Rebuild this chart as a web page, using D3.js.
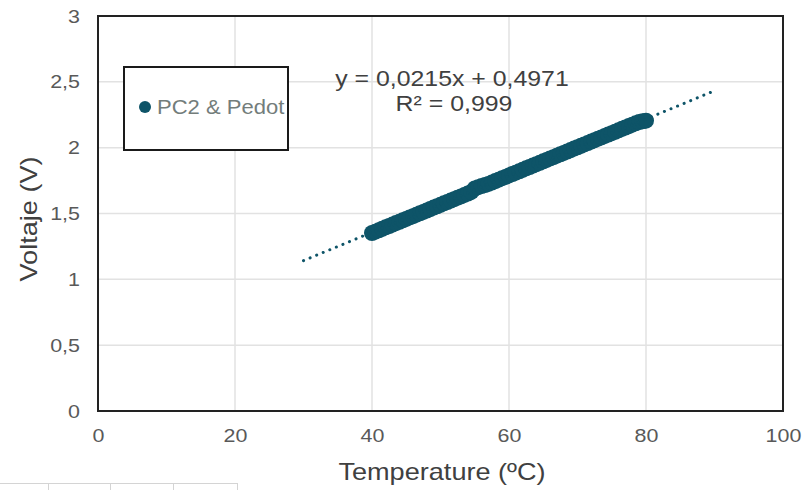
<!DOCTYPE html>
<html>
<head>
<meta charset="utf-8">
<script src="https://cdn.jsdelivr.net/npm/d3@7"></script>
<style>
  body { margin: 0; background: #fff; }
  text { font-family: "Liberation Sans", Arial, sans-serif; }
</style>
</head>
<body>
<div id="chart"></div>
<script>
// measured temperatures (ºC) and voltages (V) for PC2 & Pedot
const temps = [40, 40.5, 41, 41.5, 42, 42.5, 43, 43.5, 44, 44.5, 45, 45.5, 46, 46.5, 47, 47.5,
  48, 48.5, 49, 49.5, 50, 50.5, 51, 51.5, 52, 52.5, 53, 53.5, 54, 54.5, 55, 55.5,
  56, 56.5, 57, 57.5, 58, 58.5, 59, 59.5, 60, 60.5, 61, 61.5, 62, 62.5, 63, 63.5,
  64, 64.5, 65, 65.5, 66, 66.5, 67, 67.5, 68, 68.5, 69, 69.5, 70, 70.5, 71, 71.5,
  72, 72.5, 73, 73.5, 74, 74.5, 75, 75.5, 76, 76.5, 77, 77.5, 78, 78.5, 79, 79.5, 80];
const volts = [1.352, 1.362, 1.373, 1.384, 1.395, 1.405, 1.416, 1.427, 1.437, 1.448, 1.459, 1.470,
  1.480, 1.491, 1.502, 1.512, 1.523, 1.534, 1.545, 1.555, 1.566, 1.577, 1.587, 1.598,
  1.609, 1.620, 1.630, 1.641, 1.652, 1.664, 1.690, 1.700, 1.708, 1.716, 1.725, 1.735,
  1.746, 1.757, 1.768, 1.778, 1.789, 1.800, 1.810, 1.821, 1.832, 1.843, 1.853, 1.864,
  1.875, 1.885, 1.896, 1.907, 1.918, 1.928, 1.939, 1.950, 1.960, 1.971, 1.982, 1.993,
  2.003, 2.014, 2.025, 2.035, 2.046, 2.057, 2.068, 2.078, 2.089, 2.100, 2.110, 2.121,
  2.132, 2.143, 2.153, 2.164, 2.175, 2.185, 2.194, 2.200, 2.205];

// linear trendline shown in the chart
const trendSlope = 0.0215;
const trendIntercept = 0.4971;
const trendRange = [30, 90];

const xTicks = [0, 20, 40, 60, 80, 100];
const yTicks = [0, 0.5, 1, 1.5, 2, 2.5, 3];
const seriesName = "PC2 & Pedot";

const W = 805, H = 490;
const margin = { top: 16, right: 22, bottom: 79, left: 98 };
const width = W - margin.left - margin.right;
const height = H - margin.top - margin.bottom;
const teal = "#0e5468";
const sx = 1.13; // the source text is a bit wider than Arial
const fmt = d => String(d).replace(".", ",");

const svg = d3.select("#chart").append("svg")
  .attr("width", W)
  .attr("height", H);

const g = svg.append("g")
  .attr("transform", `translate(${margin.left},${margin.top})`);

const x = d3.scaleLinear().domain([0, 100]).range([0, width]);
const y = d3.scaleLinear().domain([0, 3]).range([height, 0]);

// text placed at (px,py), stretched horizontally
function label(parent, px, py, size, fill, txt, rot) {
  return parent.append("text")
    .attr("transform", `translate(${px},${py})` + (rot ? ` rotate(${rot})` : "") + ` scale(${sx},1)`)
    .attr("text-anchor", "middle")
    .attr("fill", fill)
    .style("font-size", size + "px")
    .text(txt);
}

// gridlines
g.append("g")
  .selectAll("line")
  .data(xTicks.slice(1, -1))
  .join("line")
  .attr("x1", d => x(d)).attr("x2", d => x(d))
  .attr("y1", 0).attr("y2", height)
  .attr("stroke", "#e2e2e2").attr("stroke-width", 1.5);

g.append("g")
  .selectAll("line")
  .data(yTicks.slice(1, -1))
  .join("line")
  .attr("x1", 0).attr("x2", width)
  .attr("y1", d => y(d)).attr("y2", d => y(d))
  .attr("stroke", "#e2e2e2").attr("stroke-width", 1.5);

// axes (labels only, no tick marks)
const xAxis = g.append("g")
  .attr("transform", `translate(0,${height})`)
  .call(d3.axisBottom(x).tickValues(xTicks).tickSize(0).tickPadding(18).tickFormat(fmt));
const yAxis = g.append("g")
  .call(d3.axisLeft(y).tickValues(yTicks).tickSize(0).tickPadding(18).tickFormat(fmt));

[xAxis, yAxis].forEach(a => {
  a.select(".domain").remove();
  a.selectAll("text")
    .style("font-family", "'Liberation Sans', Arial, sans-serif")
    .style("font-size", "19px")
    .attr("fill", "#595959")
    .attr("transform", `scale(${sx},1)`);
});
yAxis.selectAll("text").attr("x", -18 / sx);

// data points
g.append("g")
  .selectAll("circle")
  .data(temps.map((t, i) => [t, volts[i]]))
  .join("circle")
  .attr("cx", d => x(d[0]))
  .attr("cy", d => y(d[1]))
  .attr("r", 8)
  .attr("fill", teal);

// dotted trendline
g.append("line")
  .attr("x1", x(trendRange[0]))
  .attr("y1", y(trendSlope * trendRange[0] + trendIntercept))
  .attr("x2", x(trendRange[1]))
  .attr("y2", y(trendSlope * trendRange[1] + trendIntercept))
  .attr("stroke", teal)
  .attr("stroke-width", 3)
  .attr("stroke-linecap", "round")
  .attr("stroke-dasharray", "0.1 7");

// plot border
g.append("rect")
  .attr("width", width).attr("height", height)
  .attr("fill", "none")
  .attr("stroke", "#222").attr("stroke-width", 2);

// trendline equation
label(g, 354, 70, 22, "#404040", "y = 0,0215x + 0,4971");
label(g, 356, 95, 22, "#404040", "R² = 0,999");

// legend
const legend = svg.append("g").attr("transform", "translate(124,67)");
legend.append("rect")
  .attr("width", 164).attr("height", 83)
  .attr("fill", "#fff")
  .attr("stroke", "#1a1a1a").attr("stroke-width", 2);
legend.append("circle")
  .attr("cx", 21).attr("cy", 40).attr("r", 6)
  .attr("fill", teal);
legend.append("text")
  .attr("transform", `translate(33,40) scale(${sx},1)`)
  .attr("dy", "0.35em")
  .attr("fill", "#737d7b")
  .style("font-size", "19.5px")
  .text(seriesName);

// axis titles
label(svg, 442, 480, 24, "#404040", "Temperature (ºC)");
label(svg, 37, 219, 24, "#404040", "Voltaje (V)", -90);

// spreadsheet cell edges visible under the chart
const cells = svg.append("g").attr("stroke", "#d4d4d4").attr("stroke-width", 1);
cells.append("line").attr("x1", 0).attr("x2", 237).attr("y1", 483.5).attr("y2", 483.5);
[48, 110, 173, 237].forEach(cx => {
  cells.append("line").attr("x1", cx + 0.5).attr("x2", cx + 0.5).attr("y1", 483).attr("y2", 490);
});
</script>
</body>
</html>
